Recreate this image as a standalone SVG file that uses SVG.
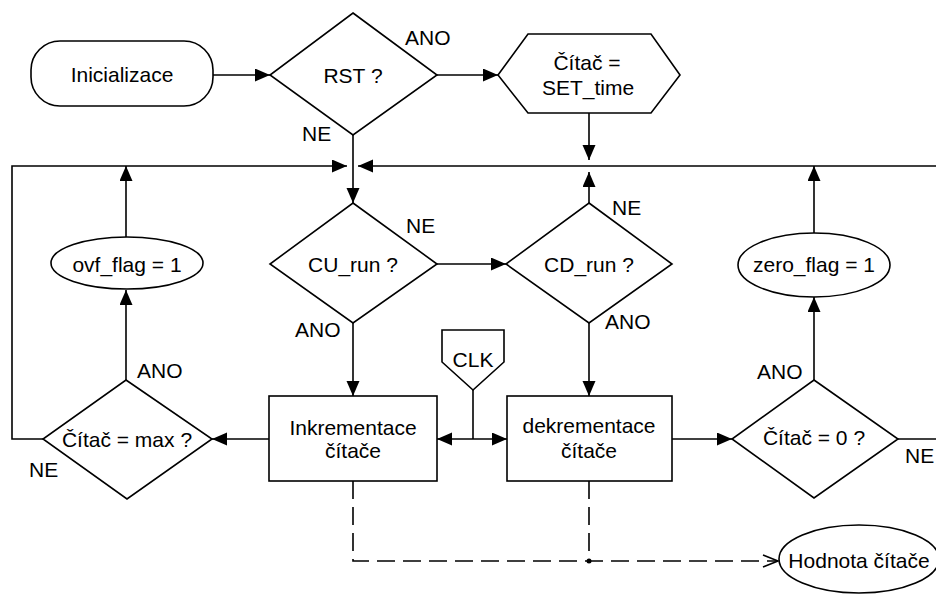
<svg xmlns="http://www.w3.org/2000/svg" width="936" height="594" viewBox="0 0 936 594">
<defs>
<style>
.s{fill:#fff;stroke:#000;stroke-width:1.6}
.l{fill:none;stroke:#000;stroke-width:1.6}
.d{fill:none;stroke:#000;stroke-width:1.6;stroke-dasharray:18 8}
text{font-family:"Liberation Sans",Arial,sans-serif;font-size:21px;fill:#000}
.c{text-anchor:middle}
</style>
<marker id="ah" markerUnits="userSpaceOnUse" markerWidth="16" markerHeight="14" refX="15" refY="6.5" orient="auto">
<path d="M0,0 L15,6.5 L0,13 z" fill="#000"/>
</marker>
</defs>
<rect width="936" height="594" fill="#fff"/>
<g id="connectors">
<line class="l" x1="213" y1="75" x2="270" y2="75" marker-end="url(#ah)"/>
<line class="l" x1="437" y1="75" x2="498" y2="75" marker-end="url(#ah)"/>
<line class="l" x1="353" y1="135" x2="353" y2="203" marker-end="url(#ah)"/>
<line class="l" x1="589" y1="113" x2="589" y2="160" marker-end="url(#ah)"/>
<polyline class="l" points="43,439 12,439 12,166 347,166" marker-end="url(#ah)"/>
<line class="l" x1="936" y1="166" x2="358" y2="166" marker-end="url(#ah)"/>
<line class="l" x1="126" y1="237" x2="126" y2="166" marker-end="url(#ah)"/>
<line class="l" x1="126" y1="380" x2="126" y2="290" marker-end="url(#ah)"/>
<line class="l" x1="589" y1="203" x2="589" y2="172" marker-end="url(#ah)"/>
<line class="l" x1="814" y1="233" x2="814" y2="166" marker-end="url(#ah)"/>
<line class="l" x1="814" y1="380" x2="814" y2="297" marker-end="url(#ah)"/>
<line class="l" x1="437" y1="264" x2="506" y2="264" marker-end="url(#ah)"/>
<line class="l" x1="353" y1="323" x2="353" y2="396" marker-end="url(#ah)"/>
<line class="l" x1="589" y1="323" x2="589" y2="396" marker-end="url(#ah)"/>
<line class="l" x1="269" y1="439" x2="212" y2="439" marker-end="url(#ah)"/>
<line class="l" x1="473" y1="390" x2="473" y2="439"/>
<line class="l" x1="473" y1="439" x2="437" y2="439" marker-end="url(#ah)"/>
<line class="l" x1="473" y1="439" x2="507" y2="439" marker-end="url(#ah)"/>
<line class="l" x1="672" y1="439" x2="732" y2="439" marker-end="url(#ah)"/>
<line class="l" x1="898" y1="439" x2="936" y2="439"/>
<polyline class="d" points="353,481 353,561 777,561"/>
<line class="d" x1="589" y1="481" x2="589" y2="561"/>
<circle cx="589" cy="561" r="2.5" fill="#000"/>
<polyline class="l" points="763,555 778,561 763,567"/>
</g>
<g id="inicializace">
<rect class="s" x="31" y="41" width="182" height="65" rx="29" ry="29"/>
<text class="c" x="122" y="82">Inicializace</text>
</g>
<g id="rst">
<polygon class="s" points="353,13 437,75 353,135 270,75"/>
<text class="c" x="353" y="83">RST ?</text>
<text x="405" y="45">ANO</text>
<text x="302" y="141">NE</text>
</g>
<g id="set">
<polygon class="s" points="528,34 651,34 680,75 651,113 528,113 498,75"/>
<text class="c" x="587" y="70">Čítač =</text>
<text class="c" x="588" y="95">SET_time</text>
</g>
<g id="curun">
<polygon class="s" points="353,203 437,264 353,323 270,264"/>
<text class="c" x="353" y="272">CU_run ?</text>
<text x="406" y="233">NE</text>
<text x="295" y="337">ANO</text>
</g>
<g id="cdrun">
<polygon class="s" points="589,203 672,264 589,323 506,264"/>
<text class="c" x="589" y="272">CD_run ?</text>
<text x="612" y="215">NE</text>
<text x="605" y="329">ANO</text>
</g>
<g id="ovf">
<ellipse class="s" cx="127" cy="263" rx="76" ry="26"/>
<text class="c" x="127" y="272">ovf_flag = 1</text>
</g>
<g id="zero">
<ellipse class="s" cx="814" cy="265" rx="76" ry="32"/>
<text class="c" x="814" y="272">zero_flag = 1</text>
</g>
<g id="max">
<polygon class="s" points="126,380 212,439 127,499 43,439"/>
<text class="c" x="127" y="447">Čítač = max ?</text>
<text x="137" y="378">ANO</text>
<text x="29" y="477">NE</text>
</g>
<g id="inkrementace">
<rect class="s" x="269" y="396" width="168" height="85"/>
<text class="c" x="353" y="435">Inkrementace</text>
<text class="c" x="353" y="458">čítače</text>
</g>
<g id="clk">
<polygon class="s" points="442,330 504,330 504,362 473,390 442,362"/>
<text class="c" x="473" y="367">CLK</text>
</g>
<g id="dekrementace">
<rect class="s" x="507" y="396" width="165" height="85"/>
<text class="c" x="589" y="433">dekrementace</text>
<text class="c" x="589" y="458">čítače</text>
</g>
<g id="zero-test">
<polygon class="s" points="814,380 898,439 814,498 732,439"/>
<text class="c" x="814" y="445">Čítač = 0 ?</text>
<text x="757" y="379">ANO</text>
<text x="905" y="463">NE</text>
</g>
<g id="hodnota">
<ellipse class="s" cx="859" cy="559" rx="80" ry="34"/>
<text class="c" x="859" y="568">Hodnota čítače</text>
</g>
</svg>
